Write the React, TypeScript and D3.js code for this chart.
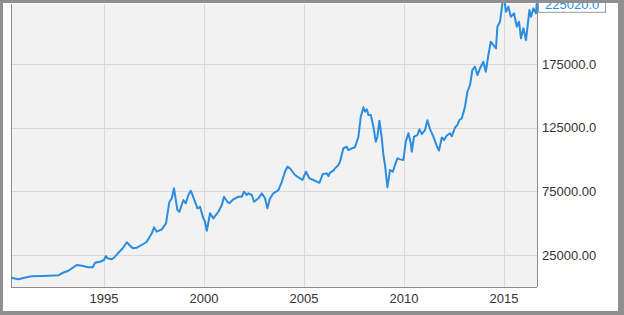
import React from "react";
import * as d3 from "d3";

const years: number[] = [
  1990.35, 1990.72, 1991.13, 1991.39, 1991.97, 1992.72, 1992.89, 1993.22, 1993.39, 1993.64,
  1993.89, 1994.22, 1994.44, 1994.55, 1994.8, 1995.0, 1995.09, 1995.17, 1995.39, 1995.55,
  1995.77, 1995.94, 1996.14, 1996.27, 1996.44, 1996.64, 1996.97, 1997.14, 1997.39, 1997.5,
  1997.64, 1997.89, 1998.1, 1998.27, 1998.39, 1998.5, 1998.67, 1998.77, 1998.97, 1999.09,
  1999.22, 1999.34, 1999.55, 1999.67, 1999.8, 1999.94, 2000.05, 2000.14, 2000.3, 2000.47,
  2000.72, 2000.89, 2001.0, 2001.17, 2001.27, 2001.47, 2001.72, 2001.89, 2002.0, 2002.14,
  2002.22, 2002.39, 2002.5, 2002.72, 2002.89, 2003.05, 2003.17, 2003.3, 2003.47, 2003.72,
  2003.89, 2004.05, 2004.17, 2004.3, 2004.55, 2004.8, 2004.92, 2005.1, 2005.27, 2005.47,
  2005.77, 2005.94, 2006.14, 2006.22, 2006.3, 2006.47, 2006.55, 2006.72, 2006.8, 2006.97,
  2007.14, 2007.22, 2007.39, 2007.55, 2007.72, 2007.84, 2007.97, 2008.05, 2008.14, 2008.22,
  2008.34, 2008.47, 2008.59, 2008.67, 2008.77, 2008.89, 2008.97, 2009.05, 2009.17, 2009.3,
  2009.44, 2009.55, 2009.67, 2009.8, 2009.97, 2010.09, 2010.22, 2010.34, 2010.39, 2010.5,
  2010.67, 2010.77, 2010.89, 2011.05, 2011.17, 2011.3, 2011.47, 2011.64, 2011.75, 2011.89,
  2012.0, 2012.14, 2012.3, 2012.39, 2012.55, 2012.67, 2012.77, 2012.89, 2013.05, 2013.17,
  2013.3, 2013.42, 2013.55, 2013.67, 2013.8, 2013.97, 2014.09, 2014.22, 2014.34, 2014.47,
  2014.6, 2014.67, 2014.8, 2014.92, 2015.0, 2015.1, 2015.22, 2015.34, 2015.5, 2015.64,
  2015.75, 2015.85, 2015.97, 2016.1, 2016.27, 2016.35, 2016.47, 2016.6, 2016.65,
];

const values: number[] = [
  7150, 5890, 7460, 8250, 8480, 9030, 10600, 12640, 14530, 17120,
  16570, 15310, 15310, 18930, 19710, 21050, 24190, 22380, 21600, 23640,
  27570, 30240, 34950, 32830, 30240, 30710, 33620, 35420, 42020, 46730,
  43270, 45160, 49870, 66830, 69500, 77350, 60290, 58960, 68140, 65580,
  72100, 75480, 66830, 61650, 62890, 55040, 51100, 44040, 57700, 53770,
  58960, 64220, 70730, 66830, 65580, 68720, 70730, 70730, 74700, 72100,
  73440, 72100, 66830, 69500, 73440, 69500, 61650, 69500, 73440, 76000,
  82500, 90400, 94330, 93000, 87800, 85200, 83900, 90400, 85200, 83900,
  81700, 88600, 89100, 87000, 89600, 91200, 93000, 95700, 98200, 108800,
  110000, 107400, 108800, 109600, 117900, 133600, 141000, 137500, 139400, 134900,
  134900, 125700, 114000, 117900, 130500, 116600, 103500, 95700, 78100, 91700,
  90400, 95700, 100900, 100100, 99600, 114000, 120600, 112700, 106100, 117900,
  119200, 123700, 120000, 123100, 130800, 123900, 117900, 110600, 107000, 117300,
  115300, 118800, 120600, 118200, 125100, 127100, 131000, 132300, 141500, 153200,
  158500, 170300, 172900, 166300, 171600, 176800, 168900, 182100, 192500, 189900,
  187300, 204300, 208200, 222700, 228000, 216000, 220000, 212100, 214800, 204300,
  208200, 195200, 203000, 193800, 217400, 212100, 218700, 214800, 225020,
];

const xTicks: number[] = [1995, 2000, 2005, 2010, 2015];
const yTicks: number[] = [25000, 75000, 125000, 175000];
const yTickLabels: string[] = ["25000.00", "75000.00", "125000.0", "175000.0"];
const lastLabel = "225020.0";

export default function App() {
  const W = 624;
  const H = 315;
  const left = 11;
  const right = 537;
  const top = 4;
  const bottom = 287;

  const x = d3.scaleLinear().domain([1990.35, 2016.65]).range([left, right]);
  const y = d3.scaleLinear().domain([0, 175000]).range([286.8, 64]);

  const pts = years.map((yr, i) => [yr, values[i]] as [number, number]);
  const line = d3
    .line<[number, number]>()
    .x((d) => x(d[0]))
    .y((d) => y(d[1]));

  const font = "'Liberation Sans', Arial, sans-serif";
  const lastY = y(values[values.length - 1]);

  return (
    <svg
      width={W}
      height={H}
      style={{ position: "absolute", left: 0, top: 0, display: "block" }}
    >
      <rect x={0} y={0} width={W} height={H} fill="#ffffff" />
      <rect x={left} y={top} width={right - left} height={bottom - top} fill="#f2f2f2" />
      {yTicks.map((t) => (
        <line key={"gy" + t} x1={left} x2={right} y1={Math.round(y(t)) + 0.5} y2={Math.round(y(t)) + 0.5} stroke="#d8d8d8" strokeWidth={1} />
      ))}
      {xTicks.map((t) => (
        <line key={"gx" + t} x1={Math.round(x(t)) + 0.5} x2={Math.round(x(t)) + 0.5} y1={top} y2={bottom} stroke="#d8d8d8" strokeWidth={1} />
      ))}
      <line x1={left + 0.5} x2={left + 0.5} y1={top} y2={bottom} stroke="#8c8c8c" strokeWidth={1} />
      <line x1={left} x2={right} y1={bottom + 0.5} y2={bottom + 0.5} stroke="#8c8c8c" strokeWidth={1} />
      <line x1={right + 0.5} x2={right + 0.5} y1={top} y2={bottom} stroke="#8c8c8c" strokeWidth={1} />
      <path d={line(pts) || ""} fill="none" stroke="#2a8de0" strokeWidth={2} strokeLinejoin="round" />
      {yTicks.map((t, i) => (
        <text key={"ty" + t} x={542} y={y(t)} dy="0.35em" fontFamily={font} fontSize={13} fill="#333">
          {yTickLabels[i]}
        </text>
      ))}
      {xTicks.map((t) => (
        <text key={"tx" + t} x={x(t)} y={303} textAnchor="middle" fontFamily={font} fontSize={13} fill="#333">
          {t}
        </text>
      ))}
      <rect x={538.5} y={lastY - 6} width={67} height={18} fill="#ffffff" stroke="#9a9a9a" strokeWidth={1} />
      <text x={545} y={lastY + 8.5} fontFamily={font} fontSize={13} fill="#2a8de0">
        {lastLabel}
      </text>
      <rect x={0} y={0} width={W} height={3} fill="#8f8f8f" />
      <rect x={0} y={0} width={3} height={H} fill="#8f8f8f" />
      <rect x={618} y={0} width={6} height={H} fill="#8f8f8f" />
      <rect x={0} y={311} width={W} height={4} fill="#8f8f8f" />
    </svg>
  );
}
